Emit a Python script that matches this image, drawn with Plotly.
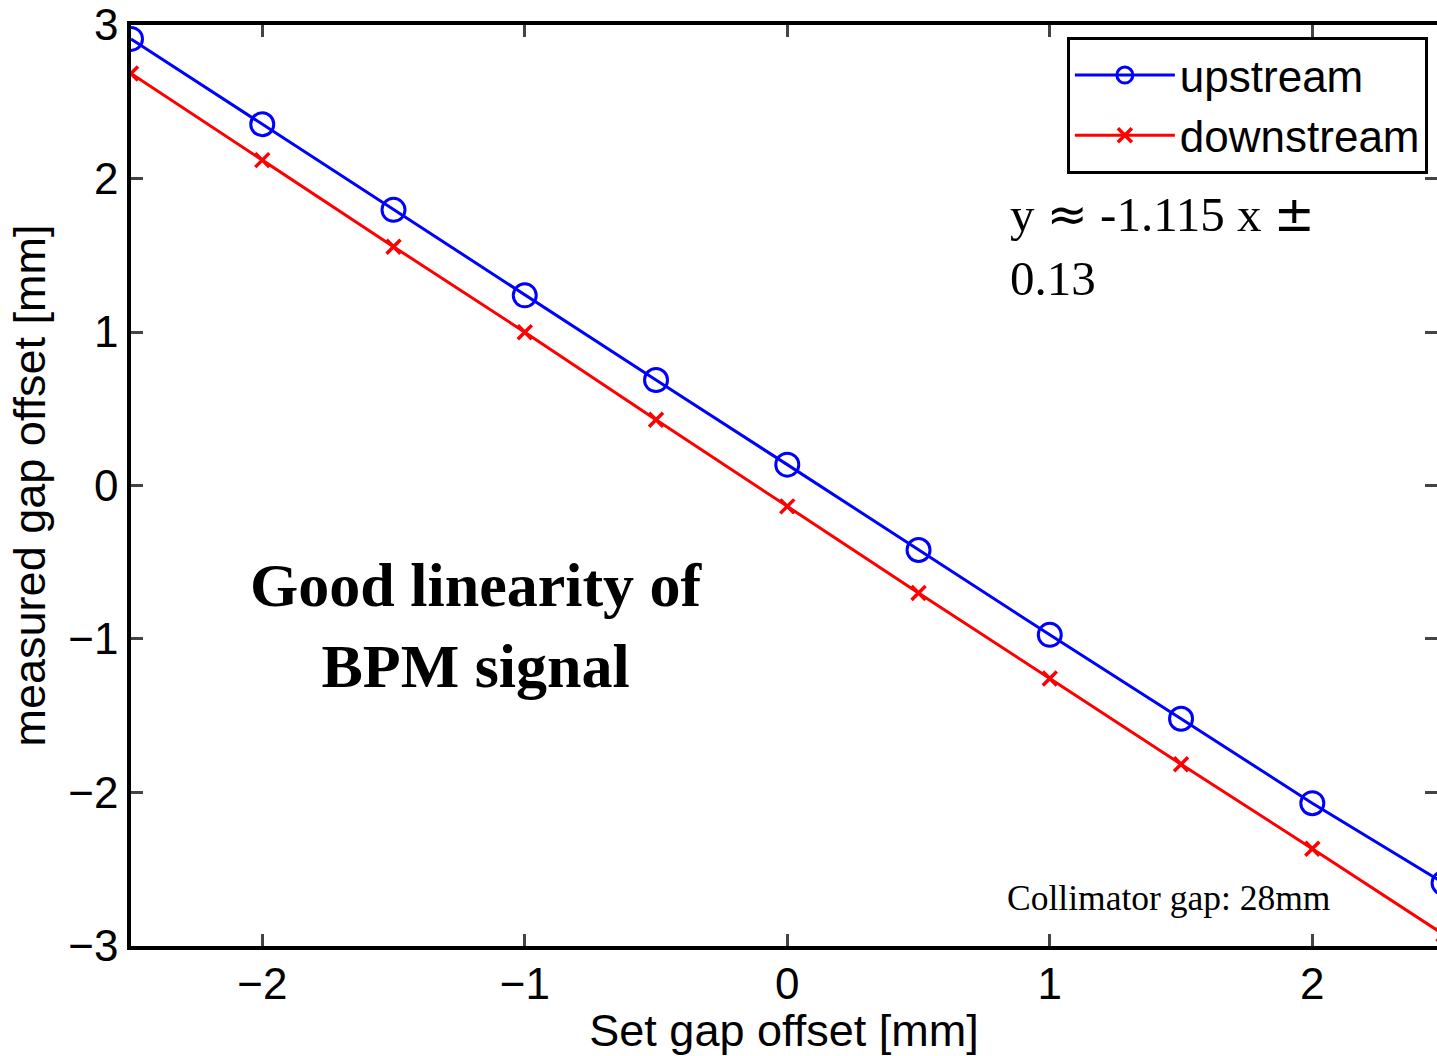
import plotly.graph_objects as go

set_offset = [-2.5, -2.0, -1.5, -1.0, -0.5, 0.0, 0.5, 1.0, 1.5, 2.0, 2.5]
upstream = [2.91, 2.354, 1.796, 1.239, 0.687, 0.136, -0.42, -0.973, -1.52, -2.07, -2.59]
downstream = [2.685, 2.12, 1.556, 0.999, 0.428, -0.136, -0.70, -1.258, -1.816, -2.367, -2.925]
x_ticks = [-2, -1, 0, 1, 2]
y_ticks = [-3, -2, -1, 0, 1, 2, 3]

SANS = "Liberation Sans"
SERIF = "Liberation Serif"

fig = go.Figure()
fig.add_trace(go.Scatter(
    x=set_offset, y=upstream, mode="lines+markers", name="upstream",
    line=dict(color="#0000ff", width=3),
    marker=dict(symbol="circle-open", size=23, color="#0000ff", line=dict(width=3, color="#0000ff")),
))
fig.add_trace(go.Scatter(
    x=set_offset, y=downstream, mode="lines+markers", name="downstream",
    line=dict(color="#ff0000", width=3),
    marker=dict(symbol="x-thin-open", size=14, color="#ff0000", line=dict(width=3.5, color="#ff0000")),
))
# empty trace on a right-side axis: mirrored ticks without an axis line
fig.add_trace(go.Scatter(x=[None], y=[None], yaxis="y2", showlegend=False, hoverinfo="skip"))

fig.update_layout(
    width=1437, height=1056,
    margin=dict(l=131, r=0, t=21, b=110),
    paper_bgcolor="white", plot_bgcolor="white",
    font=dict(family=SANS, size=44, color="black"),
    xaxis=dict(
        range=[-2.5, 2.475], tickvals=x_ticks, ticks="inside", ticklen=12, tickwidth=3,
        showline=True, linewidth=3.5, linecolor="black", mirror="ticks",
        showgrid=False, zeroline=False, tickfont=dict(size=44),
        ticklabelstandoff=-4, ticklabeloverflow="allow",
        title=dict(text="Set gap offset [mm]", font=dict(size=45), standoff=4),
    ),
    yaxis=dict(
        range=[-3.0005, 3.0005], tickvals=y_ticks, ticks="inside", ticklen=12, tickwidth=3,
        showline=True, linewidth=3.5, linecolor="black", mirror=False,
        showgrid=False, zeroline=False, tickfont=dict(size=44),
        ticklabeloverflow="allow",
        title=dict(text="measured gap offset [mm]", font=dict(size=45), standoff=10),
    ),
    yaxis2=dict(
        range=[-3.0005, 3.0005], tickvals=y_ticks, ticks="inside", ticklen=12, tickwidth=3,
        overlaying="y", side="right", showline=False, showticklabels=False,
        showgrid=False, zeroline=False,
    ),
    legend=dict(
        x=0.993, xanchor="right", y=0.987, yanchor="top",
        bgcolor="white", bordercolor="black", borderwidth=3,
        font=dict(family=SANS, size=44), tracegroupgap=0, itemwidth=100,
    ),
    showlegend=True,
)

fig.add_annotation(
    x=-1.185, y=-0.914, xref="x", yref="y", showarrow=False,
    text="<b>Good linearity of<br>BPM signal</b>",
    font=dict(family=SERIF, size=62, color="black"), align="center",
)
fig.add_annotation(
    x=0.842, y=1.563, xref="x", yref="y", showarrow=False, xanchor="left",
    text=("y <span style=\"font-family:'DejaVu Sans'\">≈</span> -1.115 x "
          "<span style=\"font-family:'DejaVu Sans'\">±</span><br>0.13"),
    font=dict(family=SERIF, size=49, color="black"), align="left",
)
fig.add_annotation(
    x=0.83, y=-2.685, xref="x", yref="y", showarrow=False, xanchor="left",
    text="Collimator gap: 28mm",
    font=dict(family=SERIF, size=35.5, color="black"), align="left",
)

fig.write_html("out.html", config={"displayModeBar": False},
               post_script="document.body.style.margin='0';")
